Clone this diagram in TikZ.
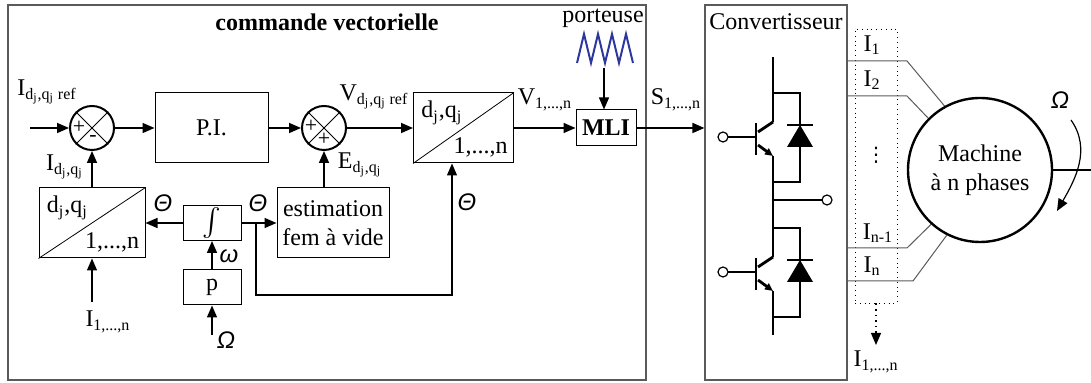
\documentclass[tikz,border=0pt,12pt]{standalone}
\usepackage{fontspec}
\setmainfont{Liberation Serif}
\newfontfamily\grec{Liberation Sans}
\newfontfamily\symb{DejaVu Sans}
\usepackage{tikz}
\usetikzlibrary{arrows.meta}

\definecolor{bleuporteuse}{RGB}{45,55,160}
\definecolor{grisbord}{RGB}{90,90,90}

\tikzset{
	fleche/.style = {-{Triangle[length=6pt,width=5pt]}, line width=0.8pt},
	bloc/.style = {draw, line width=0.5pt, inner sep=0pt, align=center},
	comparateur/.style = {draw, circle, line width=1pt, minimum size=22pt, inner sep=0pt},
	transfo/.style = {bloc, minimum width=50pt, minimum height=35pt},
	signe/.style = {font=\small, inner sep=0pt},
	igbt/.style = {line width=1.4pt}
}

\newcommand{\idq}{d\textsubscript{j},q\textsubscript{j}}

\begin{document}
\begin{tikzpicture}[x=0.5pt, y=-0.5pt]
	\useasboundingbox (0,0) rectangle (1091,383);
	% cadres
	\node [draw=grisbord, line width=0.6pt, minimum width=319pt, minimum height=187.5pt] (cv) at (327,192.5) {};
	\node [font=\bfseries] (titre) at (327,22) {commande vectorielle};
	\node [draw=grisbord, line width=0.6pt, minimum width=71pt, minimum height=187.5pt] (conv) at (776,192.5) {};
	\node (titreconv) at (776,22) {Convertisseur};

	% chaine directe
	\node [comparateur] (som1) at (92,128) {};
	\node [bloc, minimum width=56.5pt, minimum height=35pt] (pi) at (211.5,128) {P.I.};
	\node [comparateur] (som2) at (324,128) {};
	\node [transfo] (dq2) at (463.5,128) {};
	\node [bloc, minimum width=30pt, minimum height=18pt, font=\bfseries] (mli) at (606,128) {MLI};
	\draw (som1.45) -- (som1.225) (som1.135) -- (som1.315);
	\draw (som2.45) -- (som2.225) (som2.135) -- (som2.315);
	\draw (dq2.south west) -- (dq2.north east);
	\node [signe] at (79,127) {+};
	\node [signe] at (93,139) {-};
	\node [signe] at (311,126) {+};
	\node [signe] at (324,139) {+};
	\node [anchor=north west, inner sep=4pt] at (dq2.north west) {\idq};
	\node [anchor=south east, inner sep=3pt] at (dq2.south east) {1,...,n};

	% boucle
	\node [transfo, minimum width=53pt] (dq1) at (92,223) {};
	\draw (dq1.south west) -- (dq1.north east);
	\node [anchor=north west, inner sep=4pt] at (dq1.north west) {\idq};
	\node [anchor=south east, inner sep=3pt] at (dq1.south east) {1,...,n};
	\node [bloc, minimum width=29pt, minimum height=17.5pt] (integ) at (212,223) {\scalebox{1.4}{$\int$}};
	\node [bloc, minimum width=29pt, minimum height=17.5pt] (p) at (212,287.5) {p};
	\node [bloc, minimum width=56pt, minimum height=35pt] (est) at (333,223) {estimation\\fem à vide};

	\coordinate (eref) at (30,128);
	\coordinate (omega) at (212,335);
	\coordinate (imes) at (92,302);
	\coordinate (jonction) at (256,223);
	\coordinate (coin) at (452,295);
	\draw [fleche] (eref) -- (som1);
	\draw [fleche] (som1) -- (pi);
	\draw [fleche] (pi) -- (som2);
	\draw [fleche] (som2) -- (dq2);
	\draw [fleche] (dq2) -- (mli);
	\draw [fleche] (mli) -- (conv.west |- mli);
	\draw [fleche] (dq1) -- (som1);
	\draw [fleche] (integ) -- (dq1);
	\draw [fleche] (integ) -- (est);
	\draw [fleche] (p) -- (integ);
	\draw [fleche] (omega) -- (p);
	\draw [fleche] (imes) -- (dq1);
	\draw [fleche] (som2 |- est.north) -- (som2);
	\draw [fleche, line width=0.6pt] (jonction) |- (coin) -- (coin |- dq2.south);

	% etiquettes
	\node (iref) at (47,92) {I\textsubscript{d\textsubscript{j},q\textsubscript{j} ref}};
	\node (idq) at (65,167) {I\textsubscript{\idq}};
	\node (in) at (108,322) {I\textsubscript{1,...,n}};
	\node (vref) at (374,97) {V\textsubscript{\idq\ ref}};
	\node (edq) at (360,165) {E\textsubscript{\idq}};
	\node (vn) at (545,100) {V\textsubscript{1,...,n}};
	\node (sn) at (676,100) {S\textsubscript{1,...,n}};
	\node (theta1) at (163,203) {\grec\itshape Θ};
	\node (theta2) at (258,203) {\grec\itshape Θ};
	\node (theta3) at (467,202) {\grec\itshape Θ};
	\node (w) at (229,256) {\grec\itshape ω};
	\node (vit) at (226,340) {\grec\itshape Ω};

	% porteuse
	\node (port) at (603,18) {porteuse};
	\draw [bleuporteuse, line width=1pt] (577,63) -- (584,34) -- (591,63) -- (598,34) -- (605,63)
		-- (612,34) -- (619,63) -- (626,34) -- (633,63);
	\coordinate (porteuse) at (604,68);
	\draw [fleche, line width=0.6pt] (porteuse) -- (porteuse |- mli.north);

	% convertisseur
	\draw [igbt] (773,57) -- (773,122) (773,156) -- (773,257) (773,291) -- (773,335);
	\draw [igbt] (773,200) -- (822,200);
	\draw [line width=0.6pt, fill=white] (827,200) circle (2.5pt);
	\begin{scope}[igbt]
		\draw (773,122) -- (758,132);
		\draw (756,123) -- (756,155);
		\draw (728,137) -- (756,137);
		\draw [-{Triangle[length=4pt,width=3.5pt]}] (758,145) -- (773,156);
		\draw (773,93) -- (800,93) -- (800,125);
		\draw (787,125) -- (813,125);
		\fill (787,147) -- (813,147) -- (800,125) -- cycle;
		\draw (800,147) -- (800,182) -- (773,182);
		\draw [line width=0.6pt, fill=white] (723,137) circle (2.5pt);
	\end{scope}
	\begin{scope}[igbt, yshift=-67.5pt]
		\draw (773,122) -- (758,132);
		\draw (756,123) -- (756,155);
		\draw (728,137) -- (756,137);
		\draw [-{Triangle[length=4pt,width=3.5pt]}] (758,145) -- (773,156);
		\draw (773,93) -- (800,93) -- (800,125);
		\draw (787,125) -- (813,125);
		\fill (787,147) -- (813,147) -- (800,125) -- cycle;
		\draw (800,147) -- (800,182) -- (773,182);
		\draw [line width=0.6pt, fill=white] (723,137) circle (2.5pt);
	\end{scope}

	% machine
	\node [draw, circle, line width=1.2pt, minimum size=72pt, align=center] (machine) at (980,170) {Machine\\à n phases};
	\node [draw, dotted, minimum width=21pt, minimum height=137pt] (mesure) at (876,166) {};
	\coordinate (c1) at (907,61);
	\coordinate (c2) at (907,96);
	\coordinate (c3) at (907,248);
	\coordinate (c4) at (913,281);
	\draw [grisbord, line width=0.5pt] (conv.east |- c1) -- (c1) -- (machine.119);
	\draw [grisbord, line width=0.5pt] (conv.east |- c2) -- (c2) -- (machine.135);
	\draw [grisbord, line width=0.5pt] (conv.east |- c3) -- (c3) -- (machine.228);
	\draw [grisbord, line width=0.5pt] (conv.east |- c4) -- (c4) -- (machine.243);
	\node (i1) at (872,45) {I\textsubscript{1}};
	\node (i2) at (872,80) {I\textsubscript{2}};
	\node (ipts) at (876,155) {\symb\footnotesize ⋮};
	\node (in1) at (878,233) {I\textsubscript{n-1}};
	\node (inn) at (872,266) {I\textsubscript{n}};
	\coordinate (sortie) at (876,345);
	\draw [fleche, dotted, line width=0.6pt] (mesure) -- (sortie);
	\node (isort) at (876,362) {I\textsubscript{1,...,n}};

	\coordinate (arbre) at (1091,170);
	\coordinate (rot1) at (1071,120);
	\coordinate (rot2) at (1057,211);
	\draw [line width=1.4pt] (machine) -- (arbre);
	\draw [fleche, line width=0.6pt] (rot1) to [out=-55, in=60] (rot2);
	\node (vitm) at (1060,100) {\grec\itshape Ω};
\end{tikzpicture}
\end{document}
